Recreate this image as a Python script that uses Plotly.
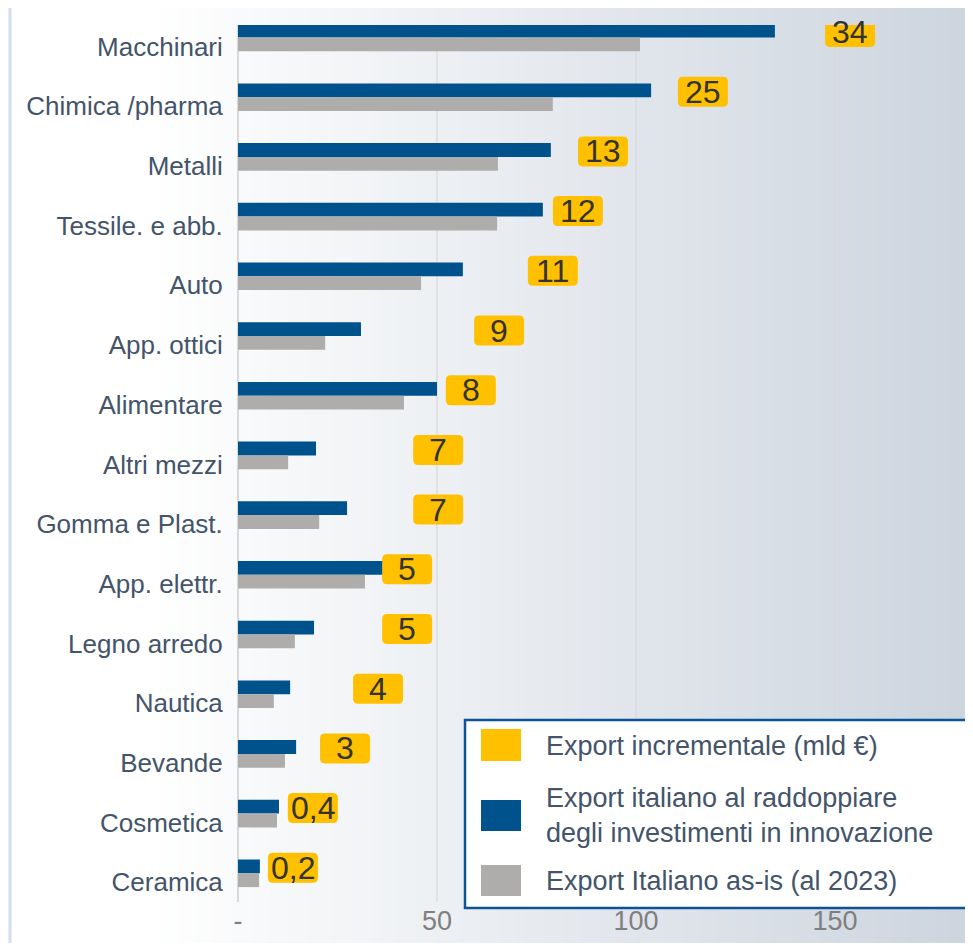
import numpy as np
import plotly.graph_objects as go

# settori (dall'alto verso il basso)
categories = ["Macchinari", "Chimica /pharma", "Metalli", "Tessile. e abb.", "Auto",
              "App. ottici", "Alimentare", "Altri mezzi", "Gomma e Plast.", "App. elettr.",
              "Legno arredo", "Nautica", "Bevande", "Cosmetica", "Ceramica"]
# export al raddoppio degli investimenti in innovazione (mld €)
export_raddoppio = [134.9, 103.8, 78.6, 76.6, 56.5, 30.9, 50.0, 19.6, 27.4, 37.0,
                    19.1, 13.1, 14.6, 10.3, 5.5]
# export as-is al 2023 (mld €)
export_as_is = [101.0, 79.1, 65.3, 65.1, 46.0, 21.9, 41.7, 12.6, 20.4, 31.9,
                14.3, 9.0, 11.8, 9.8, 5.3]
# export incrementale (mld €)
export_incrementale = ["34", "25", "13", "12", "11", "9", "8", "7", "7", "5", "5", "4", "3", "0,4", "0,2"]
# dove stanno le etichette gialle (asse x)
label_x = [153.8, 116.8, 91.7, 85.4, 79.1, 65.6, 58.5, 50.3, 50.3, 42.5, 42.5, 35.2, 26.9, 18.8, 13.8]

x_ticks = [0, 50, 100, 150]
x_ticktext = ["-", "50", "100", "150"]

BLUE = "#00528C"
GREY = "#AFADAB"
YELLOW = "#FFC000"
TEXT = "#44546A"
FONT = "Liberation Sans, Arial, sans-serif"

# la pagina html ha 8px di margine su ogni lato
OFF = 8
PAGE_W, PAGE_H = 973, 951
W, H = PAGE_W - 2 * OFF, PAGE_H - 2 * OFF
PLOT_L, PLOT_T, PLOT_B = 238, 25, 902  # in pixel di pagina
PLOT_R = OFF + W
ROW = 59.7          # pixel per riga
ROW0 = 37.5         # centro della prima riga (pixel di pagina)
PX_PER_UNIT = 3.98


def px_x(p):
    return (p - PLOT_L) / (PLOT_R - PLOT_L)


def px_y(p):
    return (PLOT_B - p) / (PLOT_B - PLOT_T)


def rounded_box(w, h, r):
    return (f"M {-w + r},{-h} L {w - r},{-h} Q {w},{-h} {w},{-h + r} "
            f"L {w},{h - r} Q {w},{h} {w - r},{h} L {-w + r},{h} Q {-w},{h} {-w},{h - r} "
            f"L {-w},{-h + r} Q {-w},{-h} {-w + r},{-h} Z")


rows = np.arange(len(categories))
bar_w = 13.8 / ROW

fig = go.Figure()
fig.add_trace(go.Bar(y=rows, x=export_raddoppio, orientation="h", width=bar_w, offset=-bar_w,
                     marker_color=BLUE, marker_line_width=0, name="raddoppio", showlegend=False))
fig.add_trace(go.Bar(y=rows, x=export_as_is, orientation="h", width=bar_w, offset=0,
                     marker_color=GREY, marker_line_width=0, name="as-is", showlegend=False))

# sfondo sfumato
n = 90
left, right = 150, 975
c0 = np.array([255, 255, 255])
c1 = np.array([205, 213, 223])
for i in range(n):
    a = left + (right - left) * i / n
    b = left + (right - left) * (i + 1) / n
    t = i / (n - 1)
    c = (c0 + (c1 - c0) * t).astype(int)
    fig.add_shape(type="rect", xref="paper", yref="paper", x0=px_x(a), x1=px_x(b) + 0.002,
                  y0=px_y(PAGE_H + 2), y1=px_y(0), fillcolor=f"rgb({c[0]},{c[1]},{c[2]})",
                  line_width=0, layer="below")
fig.add_shape(type="line", xref="paper", yref="paper", x0=px_x(OFF + 2), x1=px_x(OFF + 2),
              y0=px_y(PAGE_H + 2), y1=px_y(0), line=dict(color="#D3DDEE", width=3), layer="below")

# etichette gialle
dy = -5.5 / ROW
for i, (lx, t) in enumerate(zip(label_x, export_incrementale)):
    fig.add_shape(type="path", xref="x", yref="y", xsizemode="pixel", ysizemode="pixel",
                  xanchor=lx, yanchor=i + dy, path=rounded_box(25, 15, 5),
                  fillcolor=YELLOW, line_width=0)
    fig.add_annotation(x=lx, y=i + dy, text=t, showarrow=False,
                       font=dict(size=32, color="#333333", family=FONT))

# legenda
fig.add_shape(type="rect", xref="paper", yref="paper", x0=px_x(465), x1=px_x(985),
              y0=px_y(908), y1=px_y(720), fillcolor="white",
              line=dict(color="#0B5394", width=2.5))
legend_items = [(YELLOW, 729, 761, "Export incrementale (mld €)", 746),
                (BLUE, 800, 831, "Export italiano al raddoppiare<br>degli investimenti in innovazione", 815),
                (GREY, 865, 896, "Export Italiano as-is (al 2023)", 881)]
for col, ya, yb, txt, yc in legend_items:
    fig.add_shape(type="rect", xref="paper", yref="paper", x0=px_x(481), x1=px_x(521),
                  y0=px_y(yb), y1=px_y(ya), fillcolor=col, line_width=0)
    fig.add_annotation(xref="paper", yref="paper", x=px_x(544), y=px_y(yc), text=txt,
                       xanchor="left", yanchor="middle", align="left", showarrow=False,
                       font=dict(size=27, color=TEXT, family=FONT))

fig.update_xaxes(range=[0, (PLOT_R - PLOT_L) / PX_PER_UNIT], tickvals=x_ticks, ticktext=x_ticktext,
                 showgrid=True, gridcolor="rgba(215,215,215,0.55)", gridwidth=1.5,
                 zeroline=True, zerolinecolor="#D9D9D9", zerolinewidth=2,
                 ticks="", automargin=False,
                 tickfont=dict(size=27, color="#7F7F7F", family=FONT), fixedrange=True)
fig.update_yaxes(range=[(PLOT_B - ROW0) / ROW, (PLOT_T - ROW0) / ROW],
                 tickvals=rows + 9 / ROW, ticktext=categories, showgrid=False, zeroline=False,
                 ticks="outside", ticklen=9, tickcolor="rgba(0,0,0,0)", automargin=False,
                 tickfont=dict(size=26, color=TEXT, family=FONT), fixedrange=True)

fig.update_layout(width=W, height=H,
                  margin=dict(l=PLOT_L - OFF, r=0, t=PLOT_T - OFF, b=OFF + H - PLOT_B),
                  paper_bgcolor="white", plot_bgcolor="rgba(0,0,0,0)",
                  barmode="overlay", showlegend=False, font=dict(family=FONT))

fig.write_html("out.html")
